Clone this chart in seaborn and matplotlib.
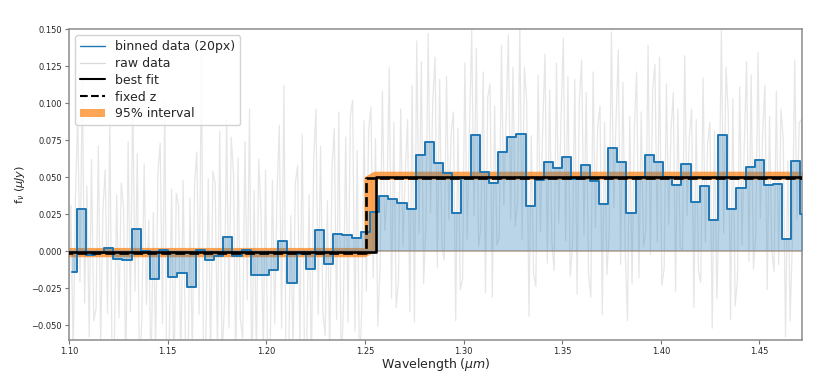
import numpy as np
import pandas as pd
import matplotlib
matplotlib.use("Agg")
import matplotlib.pyplot as plt
import seaborn as sns

# ---------------- data ----------------
x_min, x_max = 1.10, 1.4715
y_min, y_max = -0.06, 0.15

# binned spectrum (20 px bins): centre wavelengths and flux
bin_center_first, bin_center_last = 1.10158, 1.47310
binned_flux = [-0.0143, 0.0285, -0.0026, -0.0013, 0.0021, -0.0056, -0.0061, 0.0150, 0.0003, -0.0190,
               0.0009, -0.0173, -0.0145, -0.0245, 0.0008, -0.0063, -0.0034, 0.0093, -0.0034, 0.0007,
               -0.0164, -0.0162, -0.0127, 0.0068, -0.0214, -0.0016, -0.0120, 0.0142, -0.0090, 0.0117,
               0.0108, 0.0088, 0.0131, 0.0264, 0.0374, 0.0354, 0.0327, 0.0282, 0.0649, 0.0734,
               0.0598, 0.0525, 0.0259, 0.0491, 0.0782, 0.0534, 0.0462, 0.0670, 0.0768, 0.0793,
               0.0304, 0.0480, 0.0604, 0.0559, 0.0633, 0.0484, 0.0579, 0.0475, 0.0315, 0.0694,
               0.0604, 0.0260, 0.0498, 0.0649, 0.0601, 0.0498, 0.0446, 0.0586, 0.0331, 0.0437,
               0.0210, 0.0782, 0.0284, 0.0424, 0.0570, 0.0613, 0.0446, 0.0453, 0.0081, 0.0608,
               0.0248]

# raw (unbinned) spectrum, estimated
raw_first, raw_last = 1.0998, 1.4748
raw_flux = [
    -0.052, 0.031, -0.071, 0.036, 0.094, -0.021, 0.118, -0.035, 0.044, -0.058, 0.062, -0.047,
    -0.039, 0.071, -0.064, 0.028, 0.055, -0.042, 0.087, -0.079, -0.061, 0.038, -0.045, 0.046,
    0.029, -0.083, 0.074, -0.041, 0.108, -0.027, 0.066, -0.089, -0.044, 0.059, -0.036, 0.021,
    -0.088, 0.026, -0.067, 0.053, 0.073, -0.049, 0.102, -0.122, -0.056, 0.042, -0.095, 0.039,
    0.031, -0.078, 0.048, -0.061, -0.109, 0.036, -0.072, 0.045, 0.067, -0.043, 0.135, -0.095,
    -0.053, 0.049, -0.074, 0.054, 0.046, -0.067, 0.081, -0.072, -0.038, 0.089, -0.052, 0.077,
    0.052, -0.081, 0.063, -0.046, -0.059, 0.074, -0.033, 0.096, -0.097, 0.041, -0.074, 0.062,
    0.027, -0.068, 0.055, -0.086, -0.071, 0.048, -0.049, 0.039, 0.085, -0.052, 0.112, -0.091,
    -0.083, 0.024, -0.066, 0.046, 0.058, -0.064, 0.079, -0.073, -0.062, 0.038, -0.084, 0.061,
    0.096, -0.043, 0.071, -0.041, -0.057, 0.034, -0.069, 0.056, 0.083, -0.046, 0.094, -0.085,
    -0.035, 0.077, -0.048, 0.091, 0.102, -0.054, 0.068, -0.081, -0.039, 0.088, -0.027, 0.082,
    0.097, -0.018, 0.076, -0.051, -0.009, 0.108, 0.014, 0.035, 0.124, -0.032, 0.087, -0.038,
    -0.021, 0.096, 0.003, 0.053, 0.089, -0.041, 0.112, -0.048, 0.142, 0.012, 0.128, -0.022,
    0.018, 0.147, 0.026, 0.101, 0.131, -0.011, 0.116, 0.004, -0.006, 0.118, 0.021, 0.079,
    0.094, -0.047, 0.083, -0.026, -0.019, 0.127, 0.008, 0.081, 0.149, 0.024, 0.137, 0.003,
    0.016, 0.121, -0.028, 0.104, 0.113, -0.031, 0.098, 0.004, 0.009, 0.139, 0.031, 0.089,
    0.146, 0.021, 0.124, 0.017, 0.032, 0.152, 0.008, 0.124, 0.101, -0.044, 0.078, -0.015,
    -0.024, 0.119, 0.013, 0.084, 0.133, -0.008, 0.109, 0.006, -0.013, 0.127, 0.019, 0.091,
    0.144, 0.007, 0.118, -0.017, 0.004, 0.116, -0.029, 0.102, 0.129, 0.011, 0.107, -0.015,
    -0.031, 0.121, 0.016, 0.084, 0.098, -0.043, 0.087, -0.016, 0.011, 0.148, 0.029, 0.088,
    0.136, -0.009, 0.114, 0.001, -0.047, 0.091, -0.022, 0.083, 0.121, -0.018, 0.094, 0.003,
    0.014, 0.139, -0.002, 0.109, 0.126, 0.006, 0.131, -0.023, -0.012, 0.113, 0.018, 0.081,
    0.107, -0.027, 0.096, 0.002, 0.001, 0.132, 0.024, 0.077, 0.096, -0.038, 0.089, -0.014,
    -0.021, 0.117, 0.006, 0.073, 0.087, -0.052, 0.081, -0.032, 0.027, 0.149, 0.012, 0.124,
    0.094, -0.046, 0.103, -0.037, -0.019, 0.111, 0.004, 0.072, 0.128, -0.007, 0.119, -0.012,
    0.011, 0.134, 0.022, 0.078, 0.112, -0.026, 0.091, 0.001, -0.014, 0.108, -0.009, 0.096,
    0.076, -0.058, 0.061, -0.047, 0.007, 0.129, 0.021, 0.087, 0.089, -0.034, 0.072, -0.027,
]

# step models (break wavelength, flux below, flux above)
fit_break, fit_below, fit_above = 1.2554, -0.0005, 0.0500
fixz_break, fixz_below, fixz_above = 1.2503, -0.0012, 0.0493

# 95% interval envelope
ci_wave = [1.09, 1.2495, 1.2495, 1.2500, 1.2540, 1.2551, 1.2551, 1.48]
ci_upper = [0.0025, 0.0025, 0.0502, 0.0505, 0.0537, 0.0540, 0.0540, 0.0540]
ci_lower = [-0.0038, -0.0038, -0.0038, -0.0038, -0.0010, 0.0000, 0.0484, 0.0484]

# ---------------- figure ----------------
sns.set_style("ticks")
plt.rcParams["font.family"] = ["DejaVu Sans"]

fig = plt.figure(figsize=(8.31, 3.82), dpi=100)
ax = fig.add_axes([0.083, 0.110, 0.882, 0.814])

bin_wave = np.linspace(bin_center_first, bin_center_last, len(binned_flux))
raw_wave = np.linspace(raw_first, raw_last, len(raw_flux))
df_bin = pd.DataFrame({"wave": bin_wave, "flux": binned_flux})
df_raw = pd.DataFrame({"wave": raw_wave, "flux": raw_flux})

# raw data
sns.lineplot(data=df_raw, x="wave", y="flux", ax=ax, color="0.75", alpha=0.38,
             lw=0.9, sort=False, estimator=None, zorder=1, label="raw data")

# 95% interval
ax.fill_between(ci_wave, ci_lower, ci_upper, color="tab:orange", alpha=0.7,
                lw=0, zorder=2, label="95% interval")

# zero line
ax.axhline(0, color="#b89a80", lw=1.3, alpha=0.8, zorder=2.5)

# binned data fill + step
ax.fill_between(bin_wave, 0, binned_flux, step="mid", color="tab:blue",
                alpha=0.3, lw=0, zorder=3)
sns.lineplot(data=df_bin, x="wave", y="flux", ax=ax, color="tab:blue", lw=1.4,
             drawstyle="steps-mid", sort=False, estimator=None, zorder=4,
             label="binned data (20px)")

# models
fit_df = pd.DataFrame({"wave": [x_min - 0.01, fit_break, fit_break, x_max + 0.01],
                       "flux": [fit_below, fit_below, fit_above, fit_above]})
fix_df = pd.DataFrame({"wave": [x_min - 0.01, fixz_break, fixz_break, x_max + 0.01],
                       "flux": [fixz_below, fixz_below, fixz_above, fixz_above]})
sns.lineplot(data=fit_df, x="wave", y="flux", ax=ax, color="black", lw=1.9,
             sort=False, estimator=None, zorder=5, label="best fit")
sns.lineplot(data=fix_df, x="wave", y="flux", ax=ax, color="black", lw=1.9,
             linestyle="--", sort=False, estimator=None, zorder=5, label="fixed z")

ax.set_xlim(x_min, x_max)
ax.set_ylim(y_min, y_max)
ax.set_xticks([1.10, 1.15, 1.20, 1.25, 1.30, 1.35, 1.40, 1.45])
ax.set_xticklabels(["1.10", "1.15", "1.20", "1.25", "1.30", "1.35", "1.40", "1.45"])
ax.set_yticks([-0.050, -0.025, 0.0, 0.025, 0.050, 0.075, 0.100, 0.125, 0.150])
ax.set_yticklabels(["\u22120.050", "\u22120.025", "0.000", "0.025", "0.050", "0.075",
                    "0.100", "0.125", "0.150"])
ax.tick_params(axis="both", labelsize=6, length=3, width=0.8, color="0.45", pad=2)
for s in ax.spines.values():
    s.set_color("0.55")
    s.set_linewidth(1.1)

ax.set_xlabel(r"Wavelength ($\mu m$)", fontsize=9, labelpad=0)
ax.set_ylabel(r"f$_\nu$ ($\mu Jy$)", fontsize=8, labelpad=3)

handles, labels = ax.get_legend_handles_labels()
order = ["binned data (20px)", "raw data", "best fit", "fixed z", "95% interval"]
hmap = dict(zip(labels, handles))
leg = ax.legend([hmap[k] for k in order], order, loc="upper left", fontsize=9,
                frameon=True, framealpha=0.85, edgecolor="0.8", fancybox=True,
                handlelength=2.0, borderaxespad=0.5, labelspacing=0.3)
leg.legend_handles[1].set_alpha(0.6)
leg.legend_handles[2].set_linewidth(1.5)
leg.legend_handles[3].set_linewidth(1.5)
leg.legend_handles[0].set_linewidth(1.0)

fig.savefig("out.png", dpi=100)
